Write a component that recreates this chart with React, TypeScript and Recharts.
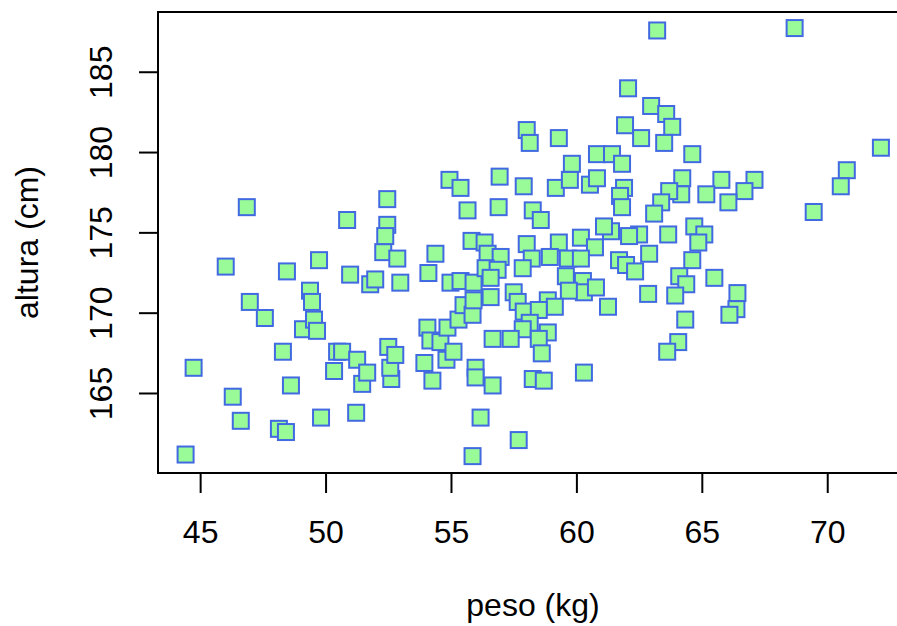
import React from 'react';
import { ScatterChart, Scatter, XAxis, YAxis, ReferenceArea } from 'recharts';

const pesos = [
  44.4, 44.72, 46.0, 46.28, 46.6, 46.84, 46.96, 47.56, 48.12, 48.4, 48.28, 48.44, 48.6, 49.08, 49.36, 49.44,
  49.52, 49.64, 49.72, 49.8, 50.32, 50.44, 50.64, 50.84, 50.96, 51.2, 51.24, 51.44, 51.64, 51.76, 51.96, 52.28,
  52.44, 52.44, 52.36, 52.48, 52.6, 52.56, 52.84, 52.76, 52.96,
  54.04, 54.16, 54.56, 54.8, 54.84, 53.92, 54.24, 54.08, 54.36, 54.92, 54.96, 55.08, 55.28, 55.36, 55.36, 55.48,
  55.64, 55.84, 55.8, 55.84, 55.88, 55.88, 55.96, 55.96, 56.16,
  56.32, 56.44, 56.92, 56.88, 57.88, 58.0, 58.12, 58.24, 58.56, 58.0, 59.16, 59.28, 59.72, 59.8, 60.52, 60.8,
  59.28, 60.16, 60.72, 56.96, 58.2, 58.92, 59.64, 60.16, 57.84, 56.36, 56.84, 56.56, 59.56, 60.24, 60.28, 59.68,
  56.56, 57.48, 57.64, 57.88, 58.84, 59.12, 58.48, 58.12, 58.84, 57.84, 58.48, 58.6, 56.64, 57.36, 60.28, 58.24,
  58.68, 56.64, 57.68,
  63.2, 62.04, 62.96, 63.56, 63.8, 61.92, 62.56, 63.48, 64.6, 60.8, 61.4, 61.8, 64.2, 65.76, 65.16, 64.16,
  63.68, 61.88, 61.72, 61.8, 63.36, 63.08, 64.68, 65.08, 63.64, 62.48, 62.08, 61.36, 61.08, 64.84, 62.88, 61.68,
  61.96, 62.32, 64.6, 64.08, 64.36, 63.92, 62.84, 65.48, 60.76, 61.24, 64.32, 64.04, 63.6, 68.68, 72.12, 70.76,
  70.52, 69.44, 67.08, 66.68, 66.04, 66.4, 66.36, 66.08,
];

const alturas = [
  161.2, 166.6, 172.9, 164.8, 163.3, 176.6, 170.7, 169.7, 162.8, 162.6, 167.6, 172.6, 165.5, 169.0, 171.4, 170.7,
  169.6, 168.9, 173.3, 163.5, 166.4, 167.6, 167.6, 175.8, 172.4, 163.8, 167.1, 165.6, 166.3, 171.8, 172.1, 173.8,
  175.5, 177.1, 174.8, 167.9, 165.9, 166.6, 173.4, 167.4, 171.9,
  169.1, 168.3, 168.2, 167.1, 169.1, 166.9, 165.8, 172.5, 173.7, 178.3, 171.9, 167.6, 169.6, 177.8, 172.0, 170.5,
  176.4, 169.9, 174.5, 161.1, 171.9, 170.8, 166.6, 166.0, 163.5,
  174.4, 173.7, 178.5, 176.6, 177.9, 181.4, 180.6, 176.4, 175.8, 174.3, 177.8, 180.9, 178.3, 179.3, 178.0, 178.4,
  174.4, 174.7, 174.1, 173.5, 173.4, 173.5, 173.4, 173.4, 172.8, 172.8, 172.7, 172.2, 172.3, 172.0, 171.3, 171.4,
  171.0, 171.3, 170.7, 170.1, 170.8, 170.4, 170.2, 169.4, 168.8, 169.0, 168.4, 167.5, 168.4, 168.4, 166.3, 165.9,
  165.8, 165.5, 162.1,
  187.6, 184.0, 182.9, 182.4, 181.6, 181.7, 180.9, 180.6, 179.9, 179.9, 179.9, 179.3, 178.4, 178.3, 177.4, 177.4,
  177.6, 177.8, 177.3, 176.6, 176.9, 176.2, 175.4, 174.9, 174.9, 174.9, 174.8, 175.1, 175.4, 174.4, 173.7, 173.3,
  173.0, 172.6, 173.3, 172.3, 171.8, 171.1, 171.2, 172.2, 171.6, 170.4, 169.6, 168.2, 167.6, 187.75, 180.3, 178.9,
  177.9, 176.3, 178.3, 177.6, 176.9, 171.25, 170.25, 169.9,
];

const xTicks = [45, 50, 55, 60, 65, 70];
const yTicks = [165, 170, 175, 180, 185];
const xDomain: [number, number] = [43.3, 73.2];
const yDomain: [number, number] = [160.05, 188.75];
const xLabel = 'peso (kg)';
const yLabel = 'altura (cm)';

const FONT = '"Liberation Sans", Arial, Helvetica, sans-serif';
const FONT_SIZE = 32;

const data = pesos.map((p, i) => ({ peso: p, altura: alturas[i] }));

const Square = (props: any) => {
  const { cx, cy } = props;
  if (cx == null || cy == null) return null;
  return (
    <rect x={cx - 8} y={cy - 8} width={16} height={16} fill="#98FB98" stroke="#4169E1" strokeWidth={2} />
  );
};

const XTick = (props: any) => {
  const { x, payload } = props;
  return (
    <text x={x} y={543} textAnchor="middle" fontFamily={FONT} fontSize={FONT_SIZE} fill="#000">
      {payload.value}
    </text>
  );
};

const YTick = (props: any) => {
  const { y, payload } = props;
  return (
    <text
      x={112}
      y={y}
      transform={`rotate(-90, 112, ${y})`}
      textAnchor="middle"
      fontFamily={FONT}
      fontSize={FONT_SIZE}
      fill="#000"
    >
      {payload.value}
    </text>
  );
};

const XTitle = (props: any) => {
  const vb = props.viewBox || { x: 158, width: 750 };
  const cx = vb.x + vb.width / 2;
  return (
    <text x={cx} y={616} textAnchor="middle" fontFamily={FONT} fontSize={FONT_SIZE} fill="#000">
      {xLabel}
    </text>
  );
};

const YTitle = (props: any) => {
  const vb = props.viewBox || { y: 12, height: 461 };
  const cy = vb.y + vb.height / 2;
  return (
    <text
      x={38}
      y={cy}
      transform={`rotate(-90, 38, ${cy})`}
      textAnchor="middle"
      fontFamily={FONT}
      fontSize={FONT_SIZE}
      fill="#000"
    >
      {yLabel}
    </text>
  );
};

export default function App() {
  return (
    <div
      style={{
        position: 'absolute',
        left: 0,
        top: 0,
        width: 897,
        height: 626,
        overflow: 'hidden',
        background: '#fff',
      }}
    >
      <ScatterChart width={920} height={626} margin={{ top: 12, right: 12, bottom: 0, left: 0 }}>
        <XAxis
          type="number"
          dataKey="peso"
          domain={xDomain}
          allowDataOverflow
          ticks={xTicks}
          interval={0}
          height={153}
          axisLine={false}
          tickLine={{ stroke: '#000', strokeWidth: 2 }}
          tickSize={20}
          tick={<XTick />}
          label={(p: any) => <XTitle {...p} />}
        />
        <YAxis
          type="number"
          dataKey="altura"
          domain={yDomain}
          allowDataOverflow
          ticks={yTicks}
          interval={0}
          width={158}
          axisLine={false}
          tickLine={{ stroke: '#000', strokeWidth: 2 }}
          tickSize={19}
          tick={<YTick />}
          label={(p: any) => <YTitle {...p} />}
        />
        <Scatter data={data} shape={Square} isAnimationActive={false} />
        <ReferenceArea
          x1={xDomain[0]}
          x2={xDomain[1]}
          y1={yDomain[0]}
          y2={yDomain[1]}
          fill="none"
          fillOpacity={0}
          stroke="#000"
          strokeWidth={2}
          strokeOpacity={1}
          ifOverflow="visible"
        />
      </ScatterChart>
    </div>
  );
}
